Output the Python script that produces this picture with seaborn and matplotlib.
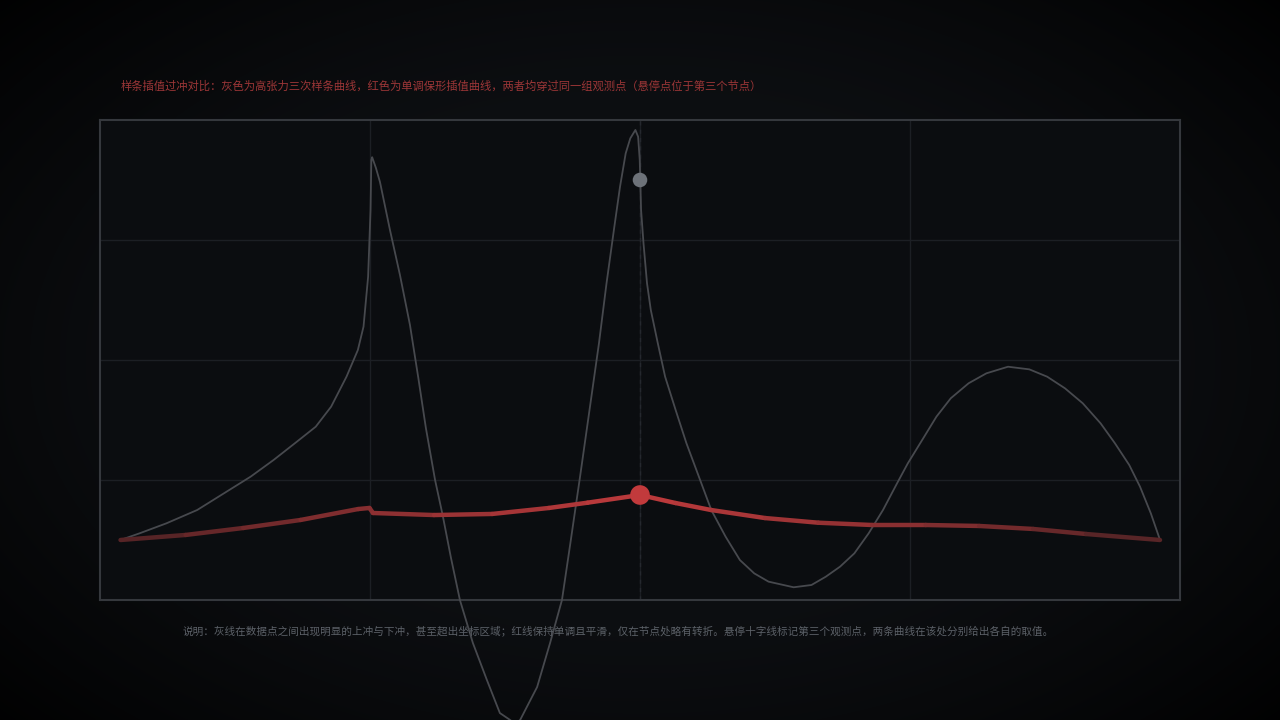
import numpy as np
import pandas as pd
import matplotlib
matplotlib.use("Agg")
import matplotlib.pyplot as plt
import seaborn as sns
from matplotlib.collections import LineCollection
from matplotlib.colors import to_rgb

# ---------------- data ----------------
gray_x = [0.076, 0.147, 0.246, 0.360, 0.459, 0.558, 0.643, 0.729, 0.799, 0.856,
          0.913, 0.955, 0.976, 0.993, 1.002, 1.005, 1.008, 1.022, 1.037, 1.074,
          1.111, 1.148, 1.179, 1.207, 1.241, 1.269, 1.300, 1.333, 1.381,
          1.433, 1.481, 1.519, 1.537, 1.556, 1.619, 1.667, 1.711, 1.742, 1.778,
          1.813, 1.848, 1.876, 1.905, 1.926, 1.947, 1.964, 1.983, 1.993, 1.999,
          2.001, 2.004, 2.013, 2.026, 2.040, 2.066, 2.093, 2.132, 2.172, 2.218,
          2.264, 2.317, 2.370, 2.423, 2.476, 2.569, 2.635, 2.688, 2.741, 2.794,
          2.847, 2.900, 2.952, 2.992, 3.045, 3.098, 3.151, 3.217, 3.283, 3.363,
          3.442, 3.508, 3.574, 3.640, 3.706, 3.759, 3.812, 3.852, 3.892, 3.926]
gray_y = [0.500, 0.556, 0.639, 0.750, 0.889, 1.028, 1.167, 1.319, 1.444, 1.611,
          1.861, 2.083, 2.278, 2.694, 3.250, 3.667, 3.690, 3.600, 3.483, 3.083,
          2.708, 2.292, 1.850, 1.433, 1.000, 0.708, 0.350, 0.000, -0.358,
          -0.667, -0.942, -1.000, -1.033, -1.000, -0.725, -0.358, 0.000, 0.472, 1.028,
          1.583, 2.139, 2.639, 3.111, 3.444, 3.722, 3.847, 3.917, 3.861, 3.667,
          3.500, 3.250, 2.972, 2.639, 2.417, 2.139, 1.861, 1.583, 1.306, 1.028,
          0.750, 0.528, 0.333, 0.222, 0.153, 0.106, 0.125, 0.194, 0.278, 0.389,
          0.556, 0.750, 0.972, 1.139, 1.333, 1.528, 1.681, 1.806, 1.889, 1.944,
          1.922, 1.861, 1.764, 1.639, 1.472, 1.306, 1.125, 0.944, 0.722, 0.500]

red_x = [0.076, 0.317, 0.530, 0.743, 0.956, 0.998, 1.011, 1.237, 1.452, 1.663,
         1.806, 2.000, 2.132, 2.263, 2.463, 2.661, 2.859, 3.058, 3.256, 3.456,
         3.652, 3.926]
red_y = [0.500, 0.542, 0.600, 0.667, 0.758, 0.767, 0.725, 0.708, 0.717, 0.767,
         0.811, 0.875, 0.808, 0.750, 0.683, 0.644, 0.625, 0.625, 0.617, 0.592,
         0.550, 0.500]

hover_x = 2.0
hover_gray_y = 3.5
hover_red_y = 0.875

grid_x = [1, 2, 3]
grid_y = [1, 2, 3]

title_text = "样条插值过冲对比：灰色为高张力三次样条曲线，红色为单调保形插值曲线，两者均穿过同一组观测点（悬停点位于第三个节点）"
note_text = ("说明：灰线在数据点之间出现明显的上冲与下冲，甚至超出坐标区域；红线保持单调且平滑，仅在节点处略有转折。"
             "悬停十字线标记第三个观测点，两条曲线在该处分别给出各自的取值。")

# ---------------- style ----------------
sns.set_theme(style="dark")
plt.rcParams['font.family'] = ['Noto Sans CJK SC', 'DejaVu Sans']

fig = plt.figure(figsize=(12.8, 7.2), dpi=100)
fig.patch.set_facecolor('#000000')

# vignette background
bg = fig.add_axes([0, 0, 1, 1], zorder=0)
yy, xx = np.mgrid[0:720, 0:1280]
r = np.sqrt(((xx - 640) / 700.0) ** 2 + ((yy - 360) / 430.0) ** 2)
v = 1 - np.clip((r - 0.55) / 0.75, 0, 1) ** 1.3
v = np.clip(v, 0, 1)
center = np.array([13, 15, 18]) / 255.0
img = center[None, None, :] * v[..., None]
bg.imshow(img, extent=[0, 1, 0, 1], aspect='auto', interpolation='bilinear')
bg.set_axis_off()

ax = fig.add_axes([100 / 1280, 120 / 720, 1080 / 1280, 480 / 720], zorder=1)
ax.set_facecolor('#0b0d10')
ax.set_xlim(0, 4)
ax.set_ylim(0, 4)
ax.set_xticks(grid_x)
ax.set_yticks(grid_y)
ax.set_xticklabels([])
ax.set_yticklabels([])
ax.tick_params(length=0)
ax.grid(True, color='#1c1f24', lw=1.0)
for s in ax.spines.values():
    s.set_visible(True)
    s.set_color('#35383d')
    s.set_linewidth(1.5)

# hover crosshair
ax.axvline(hover_x, color='#25282e', lw=1.0, ls=(0, (3, 3)), zorder=2)

# gray curve
gdf = pd.DataFrame({'x': gray_x, 'y': gray_y})
sns.lineplot(data=gdf, x='x', y='y', ax=ax, sort=False, estimator=None,
             color='#47494e', lw=1.3, zorder=3)
for ln in ax.get_lines():
    if ln.get_color() == '#47494e':
        ln.set_clip_on(False)
        ln.set_solid_joinstyle('round')

# red curve with gradient (dark ends, bright middle)
pts = np.column_stack([red_x, red_y])
segs = np.stack([pts[:-1], pts[1:]], axis=1)
mid = (np.array(red_x[:-1]) + np.array(red_x[1:])) / 2
t = np.clip(1 - np.abs(mid - hover_x) / 1.95, 0, 1)
dark = np.array(to_rgb('#4c2224'))
bright = np.array(to_rgb('#bd3a3c'))
cols = dark[None, :] + (bright - dark)[None, :] * (t[:, None] ** 0.9)
lc = LineCollection(segs, colors=cols, linewidths=3.2, capstyle='round',
                    joinstyle='round', zorder=4)
ax.add_collection(lc)

# hover points
sns.scatterplot(x=[hover_x], y=[hover_gray_y], ax=ax, color='#6d7279', s=110,
                edgecolor='none', zorder=5)
sns.scatterplot(x=[hover_x], y=[hover_red_y], ax=ax, color='#c23a3c', s=200,
                edgecolor='none', zorder=6)
ax.set_xlim(0, 4)
ax.set_ylim(0, 4)
ax.set_xlabel('')
ax.set_ylabel('')

# texts
t1 = fig.text(121 / 1280, 1 - 86 / 720, title_text, color='#9c3637',
              fontsize=9, ha='left', va='center')
t2 = fig.text((184 + 1053) / 2 / 1280, 1 - 632 / 720, note_text, color='#5c6168',
              fontsize=8, ha='center', va='center')
fig.canvas.draw()
rend = fig.canvas.get_renderer()
for txt, target in ((t1, 645.0), (t2, 869.0)):
    w = txt.get_window_extent(rend).width
    txt.set_fontsize(txt.get_fontsize() * target / w)

fig.savefig('out.png', dpi=100, facecolor=fig.get_facecolor())
